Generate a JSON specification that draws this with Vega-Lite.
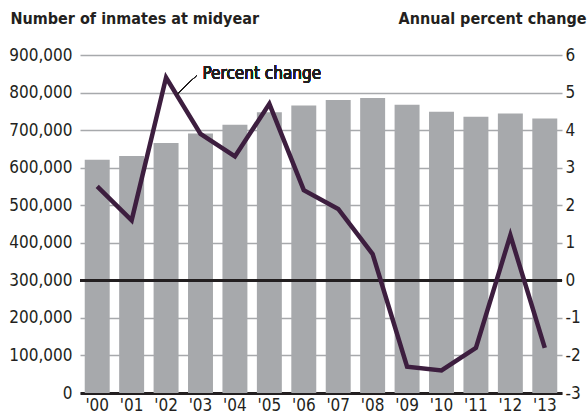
{
  "$schema": "https://vega.github.io/schema/vega-lite/v6.json",
  "width": 482,
  "height": 338,
  "autosize": {"type": "none"},
  "padding": {"left": 80, "top": 55, "right": 25, "bottom": 22},
  "background": "white",
  "config": {
    "view": {"stroke": null},
    "font": "DejaVu Sans Condensed, sans-serif",
    "axis": {"labelFont": "DejaVu Sans Condensed, sans-serif", "titleFont": "DejaVu Sans Condensed, sans-serif", "labelColor": "#231f20", "titleColor": "#231f20"}
  },
  "data": {"values": [
    {"year": "'00", "inmates": 621149, "pct": 2.5},
    {"year": "'01", "inmates": 631240, "pct": 1.6},
    {"year": "'02", "inmates": 665475, "pct": 5.4},
    {"year": "'03", "inmates": 691301, "pct": 3.9},
    {"year": "'04", "inmates": 713990, "pct": 3.3},
    {"year": "'05", "inmates": 747529, "pct": 4.7},
    {"year": "'06", "inmates": 765819, "pct": 2.4},
    {"year": "'07", "inmates": 780174, "pct": 1.9},
    {"year": "'08", "inmates": 785533, "pct": 0.7},
    {"year": "'09", "inmates": 767434, "pct": -2.3},
    {"year": "'10", "inmates": 748728, "pct": -2.4},
    {"year": "'11", "inmates": 735601, "pct": -1.8},
    {"year": "'12", "inmates": 744524, "pct": 1.2},
    {"year": "'13", "inmates": 731208, "pct": -1.8}
  ]},
  "encoding": {
    "x": {
      "field": "year", "type": "ordinal", "sort": null,
      "scale": {"paddingInner": 0.275, "paddingOuter": 0.1375},
      "axis": {"title": null, "labelAngle": 0, "labelFontSize": 17, "labelPadding": 4, "ticks": false, "domainColor": "#231f20", "domainWidth": 3, "domainCap": "butt"}
    }
  },
  "layer": [
    {
      "layer": [
        {
          "mark": {"type": "bar", "color": "#a7a9ac"},
          "encoding": {
            "y": {
              "field": "inmates", "type": "quantitative",
              "scale": {"domain": [0, 900000], "nice": false},
              "axis": {
                "values": [0, 100000, 200000, 300000, 400000, 500000, 600000, 700000, 800000, 900000],
                "format": ",d", "labelFontSize": 17, "labelPadding": 8, "ticks": false, "domain": false, "labelOverlap": false,
                "grid": true, "gridColor": "#a7a9ac", "gridWidth": 1.5,
                "title": "Number of inmates at midyear", "titleFontSize": 16, "titleFontWeight": "bold",
                "titleAngle": 0, "titleAlign": "left", "titleBaseline": "middle", "titleX": -70, "titleY": -37
              }
            }
          }
        },
        {
          "mark": {"type": "rule", "color": "#231f20", "strokeWidth": 2.5},
          "encoding": {
            "x": null,
            "y": {
              "datum": 300000, "type": "quantitative",
              "scale": {"domain": [0, 900000], "nice": false},
              "axis": {
                "values": [0, 100000, 200000, 300000, 400000, 500000, 600000, 700000, 800000, 900000],
                "format": ",d", "labelFontSize": 17, "labelPadding": 8, "ticks": false, "domain": false, "labelOverlap": false,
                "grid": true, "gridColor": "#a7a9ac", "gridWidth": 1.5,
                "title": "Number of inmates at midyear", "titleFontSize": 16, "titleFontWeight": "bold",
                "titleAngle": 0, "titleAlign": "left", "titleBaseline": "middle", "titleX": -70, "titleY": -37
              }
            }
          }
        }
      ]
    },
    {
      "layer": [
        {
          "mark": {"type": "line", "color": "#3d1e3f", "strokeWidth": 4.5, "strokeJoin": "miter"},
          "encoding": {
            "y": {
              "field": "pct", "type": "quantitative",
              "scale": {"domain": [-3, 6], "nice": false},
              "axis": {
                "orient": "right",
                "values": [-3, -2, -1, 0, 1, 2, 3, 4, 5, 6],
                "labelExpr": "datum.value < 0 ? '-' + abs(datum.value) : '' + datum.value",
                "labelFontSize": 17, "labelPadding": 3, "ticks": false, "domain": false, "grid": false, "labelOverlap": false,
                "title": "Annual percent change", "titleFontSize": 16, "titleFontWeight": "bold",
                "titleAngle": 0, "titleAlign": "right", "titleBaseline": "middle", "titleX": 24, "titleY": -37
              }
            }
          }
        },
        {
          "mark": {"type": "rule", "color": "#231f20", "strokeWidth": 1},
          "encoding": {
            "x": {"datum": "'02", "bandPosition": 0.96},
            "x2": {"datum": "'03", "bandPosition": 0.34},
            "y": {
              "datum": 4.97, "type": "quantitative",
              "scale": {"domain": [-3, 6], "nice": false},
              "axis": {
                "orient": "right",
                "values": [-3, -2, -1, 0, 1, 2, 3, 4, 5, 6],
                "labelExpr": "datum.value < 0 ? '-' + abs(datum.value) : '' + datum.value",
                "labelFontSize": 17, "labelPadding": 3, "ticks": false, "domain": false, "grid": false, "labelOverlap": false,
                "title": "Annual percent change", "titleFontSize": 16, "titleFontWeight": "bold",
                "titleAngle": 0, "titleAlign": "right", "titleBaseline": "middle", "titleX": 24, "titleY": -37
              }
            },
            "y2": {"datum": 5.45}
          }
        },
        {
          "mark": {"type": "text", "fontSize": 17, "align": "left", "baseline": "middle", "color": "#231f20"},
          "encoding": {
            "x": {"datum": "'03", "bandPosition": 0.58},
            "y": {
              "datum": 5.5, "type": "quantitative",
              "scale": {"domain": [-3, 6], "nice": false},
              "axis": {
                "orient": "right",
                "values": [-3, -2, -1, 0, 1, 2, 3, 4, 5, 6],
                "labelExpr": "datum.value < 0 ? '-' + abs(datum.value) : '' + datum.value",
                "labelFontSize": 17, "labelPadding": 3, "ticks": false, "domain": false, "grid": false, "labelOverlap": false,
                "title": "Annual percent change", "titleFontSize": 16, "titleFontWeight": "bold",
                "titleAngle": 0, "titleAlign": "right", "titleBaseline": "middle", "titleX": 24, "titleY": -37
              }
            },
            "text": {"value": "Percent change"}
          }
        }
      ]
    }
  ],
  "resolve": {"scale": {"y": "independent"}}
}
